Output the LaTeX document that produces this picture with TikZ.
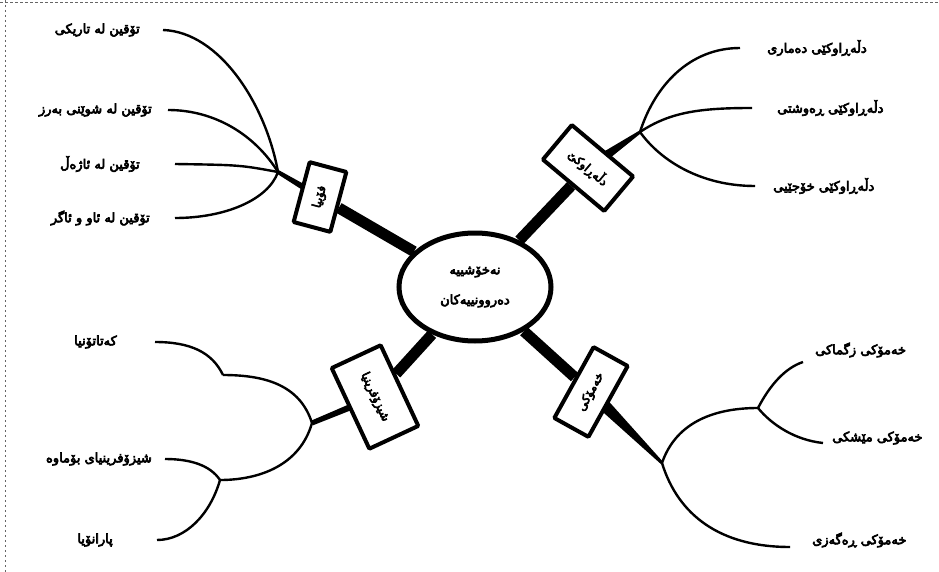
\documentclass[tikz,border=0pt]{standalone}
\usepackage{fontspec}
\usepackage{tikz}
\usetikzlibrary{shapes.geometric, calc, backgrounds}
\newfontfamily\kurdfont[Script=Arabic, FakeBold=5]{DejaVu Sans}
\TeXXeTstate=1
\newcommand{\rtl}[1]{\beginR #1\endR}
% tapered connector: from, to, half width at from, half width at to
\newcommand{\taper}[4]{%
  \fill ($(#1)!#3!90:(#2)$) -- ($(#2)!#4!-90:(#1)$) -- ($(#2)!#4!90:(#1)$) -- ($(#1)!#3!-90:(#2)$) -- cycle;}

\begin{document}
\begin{tikzpicture}[x=1pt, y=-1pt,
    leaf/.style={font=\kurdfont\fontsize{13}{15}\selectfont, inner sep=0pt},
    topic/.style={draw, line width=4pt, fill=white, rounded corners=1pt,
      font=\kurdfont\fontsize{12}{14}\selectfont, inner sep=2pt},
    branch/.style={line width=2.4pt},
    stem/.style={line width=11pt}]
  \useasboundingbox (0,0) rectangle (939,572);
  % Scan edges
  \draw[black!60, dash pattern=on 3pt off 2pt, line width=0.8pt] (0,2) -- (939,2);
  \draw[black!60, dash pattern=on 2pt off 3pt, line width=0.8pt] (5,0) -- (5,572);

  % Centre
  \node[ellipse, draw, line width=5pt, fill=white, minimum width=152, minimum height=108,
        align=center, font=\kurdfont\fontsize{13}{30}\selectfont] (core) at (475,287)
        {\rtl{نەخۆشییە}\\\rtl{دەروونییەکان}};

  % Topic boxes
  \node[topic, minimum width=62, minimum height=38, rotate=75]  (tlbox) at (320,197) {\rtl{فۆبیا}};
  \node[topic, minimum width=80, minimum height=45, rotate=-40] (trbox) at (588,168) {\rtl{دڵەڕاوکێ}};
  \node[topic, minimum width=81, minimum height=39, rotate=61]  (brbox) at (591,392) {\rtl{خەمۆکی}};
  \node[topic, minimum width=89, minimum height=54, rotate=-65] (blbox) at (375,397) {\rtl{شیزۆفرینیا}};

  % Hubs
  \coordinate (h1) at (278,172);
  \coordinate (h2) at (640,132);
  \coordinate (h3) at (662,463);
  \coordinate (h3a) at (758,408);
  \coordinate (h4) at (312,423);
  \coordinate (h4a) at (223,375);
  \coordinate (h4b) at (220,480);

  % Leaves
  \node[leaf, anchor=east] (tl1) at (140,30)  {\rtl{تۆقین لە تاریکی}};
  \node[leaf, anchor=east] (tl2) at (152,110) {\rtl{تۆقین لە شوێنی بەرز}};
  \node[leaf, anchor=east] (tl3) at (140,164) {\rtl{تۆقین لە ئاژەڵ}};
  \node[leaf, anchor=east] (tl4) at (150,218) {\rtl{تۆقین لە ئاو و ئاگر}};
  \node[leaf, anchor=west] (tr1) at (767,48)  {\rtl{دڵەڕاوکێی دەماری}};
  \node[leaf, anchor=west] (tr2) at (777,108) {\rtl{دڵەڕاوکێی ڕەوشتی}};
  \node[leaf, anchor=west] (tr3) at (773,186) {\rtl{دڵەڕاوکێی خۆجێیی}};
  \node[leaf, anchor=west] (br1) at (815,350) {\rtl{خەمۆکی زگماکی}};
  \node[leaf, anchor=west] (br2) at (832,438) {\rtl{خەمۆکی مێشکی}};
  \node[leaf, anchor=west] (br3) at (812,540) {\rtl{خەمۆکی ڕەگەزی}};
  \node[leaf, anchor=east] (bl1) at (117,342) {\rtl{کەتاتۆنیا}};
  \node[leaf, anchor=east] (bl2) at (152,459) {\rtl{شیزۆفرینیای بۆماوە}};
  \node[leaf, anchor=east] (bl3) at (113,540) {\rtl{پارانۆیا}};

  % Stems
  \begin{scope}[on background layer]
    \draw[stem] (core) -- (tlbox);
    \draw[stem] (core) -- (trbox);
    \draw[stem] (core) -- (brbox);
    \draw[stem] (core) -- (blbox);
    \taper{tlbox}{h1}{3.5pt}{2pt}
    \taper{trbox}{h2}{6pt}{1.5pt}
    \taper{brbox}{h3}{7pt}{1.5pt}
    \taper{blbox}{h4}{3.5pt}{2.5pt}
  \end{scope}

  % Branches
  \draw[branch] (h1) .. controls (266,105) and (220,32) .. ([xshift=23pt]tl1.east);
  \draw[branch] (h1) .. controls (255,135) and (215,110) .. ([xshift=16pt]tl2.east);
  \draw[branch] (h1) .. controls (240,165) .. ([xshift=35pt]tl3.east);
  \draw[branch] (h1) .. controls (268,200) and (225,218) .. ([xshift=25pt]tl4.east);

  \draw[branch] (h2) .. controls (655,85) and (690,48) .. ([xshift=-27pt]tr1.west);
  \draw[branch] (h2) .. controls (670,112) and (700,108) .. ([xshift=-25pt]tr2.west);
  \draw[branch] (h2) .. controls (660,160) and (700,186) .. ([xshift=-18pt]tr3.west);

  \draw[branch] (h3) .. controls (675,425) and (710,408) .. (h3a);
  \draw[branch] (h3a) .. controls (770,385) and (785,368) .. ([xshift=-12pt,yshift=-12pt]br1.west);
  \draw[branch] (h3a) .. controls (772,425) and (795,440) .. ([xshift=-9pt,yshift=-5pt]br2.west);
  \draw[branch] (h3) .. controls (678,515) and (720,547) .. ([xshift=-22pt,yshift=-7pt]br3.west);

  \draw[branch] (h4) .. controls (300,385) and (265,375) .. (h4a);
  \draw[branch] (h4a) .. controls (212,352) and (190,342) .. ([xshift=38pt]bl1.east);
  \draw[branch] (h4) .. controls (300,465) and (260,480) .. (h4b);
  \draw[branch] (h4b) .. controls (210,465) and (190,459) .. ([xshift=13pt]bl2.east);
  \draw[branch] (h4b) .. controls (210,515) and (185,540) .. ([xshift=44pt]bl3.east);
\end{tikzpicture}
\end{document}
